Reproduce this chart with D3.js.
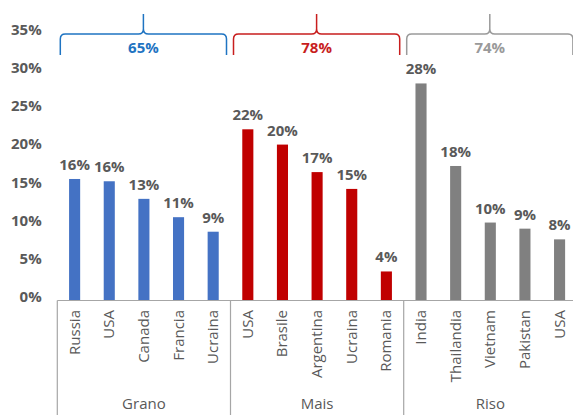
<!DOCTYPE html>
<html>
<head>
<meta charset="utf-8">
<script src="https://cdn.jsdelivr.net/npm/d3@7"></script>
<style>
  html, body { margin: 0; padding: 0; background: #fff; }
  svg { display: block; font-family: "Open Sans", "Liberation Sans", sans-serif; }
</style>
</head>
<body>
<svg id="chart" width="573" height="415"></svg>
<script>
// Export shares by crop and country
const groups = ["Grano", "Mais", "Riso"];
const groupColors = ["#4472C4", "#C00000", "#808080"];
const braceColors = ["#1F74C2", "#C81E1E", "#9A9A9A"];
const countries = [
  ["Russia", "USA", "Canada", "Francia", "Ucraina"],
  ["USA", "Brasile", "Argentina", "Ucraina", "Romania"],
  ["India", "Thailandia", "Vietnam", "Pakistan", "USA"]
];
const shares = [
  [0.159, 0.156, 0.133, 0.109, 0.090],
  [0.224, 0.204, 0.168, 0.146, 0.038],
  [0.284, 0.176, 0.102, 0.094, 0.080]
];
const yTicks = [0, 0.05, 0.10, 0.15, 0.20, 0.25, 0.30, 0.35];

const rows = [];
groups.forEach((g, gi) => {
  countries[gi].forEach((c, ci) => {
    rows.push({ key: gi + "-" + ci, group: g, gi, country: c, value: shares[gi][ci] });
  });
});

const svg = d3.select("#chart");
const plotLeft = 57.3, plotRight = 576.9, plotBase = 300.5, plotTop = 33;

const x = d3.scaleBand()
  .domain(rows.map(d => d.key))
  .range([plotLeft, plotRight])
  .paddingInner(0.68)
  .paddingOuter(0.34);
const step = x.step();

const y = d3.scaleLinear().domain([0, 0.35]).range([plotBase, plotTop]);
const pct = d3.format(".0%");

const textColor = "#595959";
const lineColor = "#A6A6A6";

// y tick labels (no axis line)
const yAxis = d3.axisLeft(y).tickValues(yTicks).tickFormat(pct).tickSize(0).tickPadding(0);
const ya = svg.append("g").attr("transform", "translate(41.7,-3.5)").call(yAxis);
ya.select(".domain").remove();
ya.selectAll("text")
  .attr("fill", textColor)
  .attr("font-size", 15)
  .attr("font-weight", 700)
  .attr("font-family", "'Open Sans', sans-serif");

// bars
svg.append("g").selectAll("rect")
  .data(rows)
  .join("rect")
  .attr("x", d => x(d.key))
  .attr("width", x.bandwidth())
  .attr("y", d => y(d.value))
  .attr("height", d => plotBase - y(d.value))
  .attr("fill", d => groupColors[d.gi]);

// value labels
svg.append("g").selectAll("text")
  .data(rows)
  .join("text")
  .attr("x", d => x(d.key) + x.bandwidth() / 2)
  .attr("y", d => y(d.value) - 9)
  .attr("text-anchor", "middle")
  .attr("font-size", 15)
  .attr("font-weight", 700)
  .attr("fill", textColor)
  .text(d => pct(d.value));

// category axis: baseline and group separators
const ax = svg.append("g").attr("stroke", lineColor).attr("stroke-width", 1.2);
ax.append("line").attr("x1", plotLeft).attr("x2", 573).attr("y1", plotBase).attr("y2", plotBase);
groups.forEach((g, gi) => {
  const gx = plotLeft + gi * 5 * step;
  ax.append("line").attr("x1", gx).attr("x2", gx).attr("y1", plotBase).attr("y2", 415);
});

// country labels, rotated
svg.append("g").selectAll("text")
  .data(rows)
  .join("text")
  .attr("transform", d => `translate(${x(d.key) + x.bandwidth() / 2 - 1},310) rotate(-90)`)
  .attr("text-anchor", "end")
  .attr("dominant-baseline", "central")
  .attr("font-size", 15)
  .attr("fill", textColor)
  .text(d => d.country);

// group labels
svg.append("g").selectAll("text")
  .data(groups)
  .join("text")
  .attr("x", (g, gi) => plotLeft + (gi * 5 + 2.5) * step)
  .attr("y", 409)
  .attr("text-anchor", "middle")
  .attr("font-size", 15)
  .attr("fill", textColor)
  .text(g => g);

// braces with group totals
groups.forEach((g, gi) => {
  const x0 = plotLeft + gi * 5 * step + 3;
  const x1 = plotLeft + (gi + 1) * 5 * step - 4;
  const xc = (x0 + x1) / 2;
  const hy = 34, ey = 55, ty = 14, r = 5;
  const path = `M${x0},${ey} V${hy + r} Q${x0},${hy} ${x0 + r},${hy} H${xc - r} Q${xc},${hy} ${xc},${hy - r} V${ty} ` +
    `M${xc},${hy - r} Q${xc},${hy} ${xc + r},${hy} H${x1 - r} Q${x1},${hy} ${x1},${hy + r} V${ey}`;
  svg.append("path")
    .attr("d", path)
    .attr("fill", "none")
    .attr("stroke", braceColors[gi])
    .attr("stroke-width", 1.5);
  const total = d3.sum(shares[gi]);
  svg.append("text")
    .attr("x", xc)
    .attr("y", 53)
    .attr("text-anchor", "middle")
    .attr("font-size", 15)
    .attr("font-weight", 700)
    .attr("fill", braceColors[gi])
    .text(pct(total));
});
</script>
</body>
</html>
